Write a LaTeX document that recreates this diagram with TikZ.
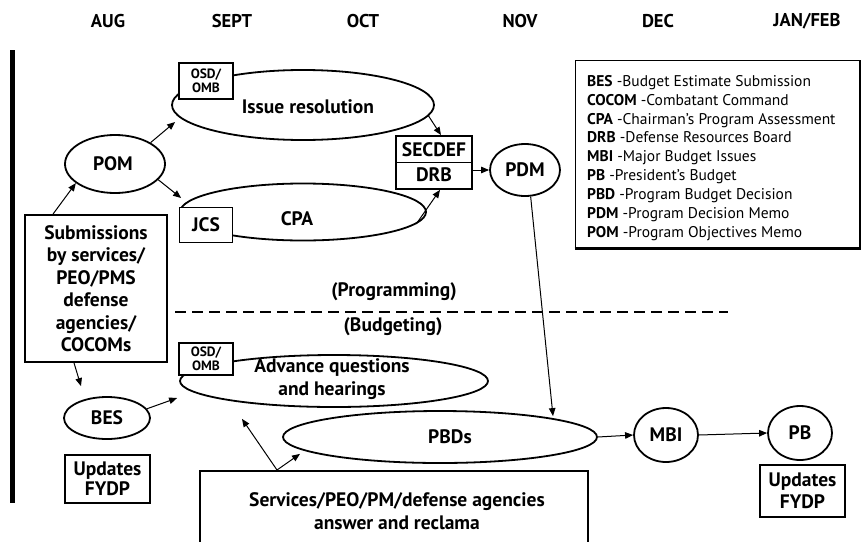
\documentclass[tikz,border=0pt]{standalone}
\usepackage{fontspec}
\setmainfont{PT Sans}
\usetikzlibrary{arrows.meta,shapes.geometric,calc}
\begin{document}
\begin{tikzpicture}[x=1pt,y=-1pt,
  ell/.style={ellipse, draw, line width=1.8pt, inner sep=0pt, fill=white},
  box/.style={rectangle, draw, line width=1.8pt, fill=white, inner sep=0pt, align=center},
  big/.style={font=\bfseries\fontsize{19.5}{22.5}\selectfont, align=center, inner sep=0pt},
  small/.style={font=\bfseries\fontsize{13.5}{14.5}\selectfont, align=center, inner sep=0pt},
  month/.style={font=\bfseries\fontsize{18.5}{20}\selectfont, inner sep=0pt},
  arr/.style={-{Triangle[length=8pt,width=6.5pt]}, line width=1pt}
]
\useasboundingbox (0,0) rectangle (861,541);
\clip (0,0) rectangle (861,541);

% months
\node[month] (aug) at (108,21) {AUG};
\node[month] (sep) at (232,21) {SEPT};
\node[month] (oct) at (363,21) {OCT};
\node[month] (nov) at (520,21) {NOV};
\node[month] (dec) at (658,21) {DEC};
\node[month] (jan) at (807,21) {JAN/FEB};

% left bar
\fill (10,50) rectangle (15,503);

% programming part
\node[ell, minimum width=100, minimum height=58] (pom) at (115,164) {};
\node[big] (pomT) at (113,164) {POM};

\node[ell, minimum width=262, minimum height=70] (issue) at (303,105) {};
\node[big] (issueT) at (308,107) {Issue resolution};
\node[box, minimum width=54, minimum height=36, small] (osd1) at (206,81) {OSD/\\OMB};

\node[ell, minimum width=246, minimum height=57] (cpa) at (303,212) {};
\node[big] (cpaT) at (297,219) {CPA};
\node[box, minimum width=53, minimum height=35, big] (jcs) at (206,225) {JCS};

\node[box, minimum width=142, minimum height=147, big] (sub) at (96,288.5)
  {Submissions\\by services/\\PEO/PMS\\defense\\agencies/\\COCOMs};

\node[box, minimum width=76, minimum height=53] (secdef) at (434,162.5) {};
\draw[line width=1.8pt] (secdef.west) -- (secdef.east);
\node[big] (secdefT) at (434,150) {SECDEF};
\node[big] (drbT) at (434,175) {DRB};

\node[ell, minimum width=70, minimum height=52, big] (pdm) at (525,170) {PDM};

% legend
\node[rectangle, draw, line width=1pt, minimum width=285, minimum height=188] (legend) at (717.5,154) {};
\draw[line width=2.6pt] (legend.south west) -- (legend.south east) -- (legend.north east);
\node[anchor=north west, align=left, inner sep=0pt,
      font=\fontsize{15.5}{18.9}\selectfont] (legT) at (587,75)
  {\textbf{BES} -Budget Estimate Submission\\
   \textbf{COCOM} -Combatant Command\\
   \textbf{CPA} -Chairman’s Program Assessment\\
   \textbf{DRB} -Defense Resources Board\\
   \textbf{MBI} -Major Budget Issues\\
   \textbf{PB} -President’s Budget\\
   \textbf{PBD} -Program Budget Decision\\
   \textbf{PDM} -Program Decision Memo\\
   \textbf{POM} -Program Objectives Memo};

% divider
\node[big] (progT) at (394,292) {(Programming)};
\coordinate (dl) at (175,312);
\coordinate (dr) at (728,312);
\draw[line width=2pt, dash pattern=on 11pt off 6pt] (dl) -- (dr);
\node[big] (budT) at (393,327) {(Budgeting)};

% budgeting part
\node[ell, minimum width=308, minimum height=52] (adv) at (334,381) {};
\node[big] (advT) at (332,379) {Advance questions\\and hearings};
\node[box, minimum width=54, minimum height=32, small] (osd2) at (206,359) {OSD/\\OMB};

\node[ell, minimum width=86, minimum height=42, big] (bes) at (107,418) {BES};
\node[box, minimum width=85, minimum height=48, big, font=\bfseries\fontsize{19.5}{20}\selectfont] (upd1) at (107.5,479) {Updates\\FYDP};

\node[ell, minimum width=314, minimum height=52] (pbd) at (440,437) {};
\node[big] (pbdT) at (450,437) {PBDs};

\node[ell, minimum width=64, minimum height=54, big] (mbi) at (666,435) {MBI};
\node[ell, minimum width=64, minimum height=54, big] (pb) at (800,433) {PB};
\node[box, minimum width=85, minimum height=52, big, font=\bfseries\fontsize{19.5}{22}\selectfont] (upd2) at (802.5,491) {Updates\\FYDP};

\node[box, minimum width=388, minimum height=110, anchor=north] (serv) at (394,470) {};
\node[big] (servT) at (397,511) {Services/PEO/PM/defense agencies\\answer and reclama};

% connectors
\draw[arr] ([xshift=-43]sub.north) -- (pom.206);
\draw[arr] (pom.31) -- ([xshift=4,yshift=-17]issue.west);
\draw[arr] (pom.-20) -- ([xshift=2,yshift=14]cpa.west);
\draw[arr] (issue.-5) -- ([xshift=7]secdef.north);
\draw[arr] (cpa.-6) -- ([xshift=6]secdef.south);
\draw[arr] (secdef.east |- pdm.west) -- (pdm.west);
\draw[arr] (pdm.-78) -- ([xshift=113,yshift=-6]pbd.north);
\draw[arr] (pbd.east) -- (mbi.west);
\draw[arr] (mbi.east) -- (pb.west);
\draw[arr] ([xshift=-22]sub.south) -- ([xshift=-26,yshift=10]bes.north);
\draw[arr] (bes.13) -- ([xshift=-2,yshift=-17]adv.west);
\draw[arr] ([xshift=-117]serv.north) -- ([xshift=-92,yshift=-11]adv.south);
\draw[arr] ([xshift=-117]serv.north) -- ([xshift=-140,yshift=10]pbd.south);
\end{tikzpicture}
\end{document}
